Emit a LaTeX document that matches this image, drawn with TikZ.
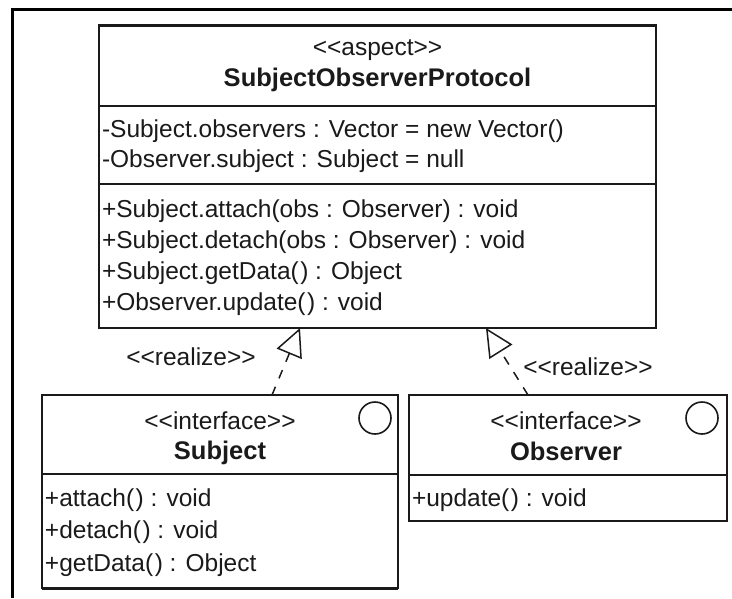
\documentclass[tikz,border=0pt]{standalone}
\usepackage{fontspec}
\setmainfont{Liberation Sans}
\usetikzlibrary{arrows.meta}
\definecolor{ink}{HTML}{1A1A1A}
% stereotype brackets kept as two separate signs
\newcommand{\stereo}[1]{<{}<#1>{}>}
\newcommand{\emptyargs}{(\kern1.5pt)}
\tikzset{
  umlbox/.style={draw=ink, line width=2pt, fill=white, inner sep=0pt, outer sep=0pt, anchor=north west},
  divider/.style={draw=ink, line width=2pt},
  txt/.style={inner sep=0pt, outer sep=0pt, text=ink, font=\fontsize{24.5}{28}\selectfont},
  bold/.style={txt, font=\fontsize{25.5}{28}\selectfont\bfseries},
  ifacemark/.style={draw=ink, line width=1.6pt, circle, inner sep=0pt, minimum size=32pt},
  realize/.style={draw=ink, line width=1.5pt, dash pattern=on 9pt off 9pt,
    -{Triangle[open, length=28pt, width=27pt, line width=1.5pt]}},
  frameline/.style={draw=black, line width=3pt}
}
\begin{document}
\begin{tikzpicture}[x=1pt, y=-1pt]
\useasboundingbox (0,0) rectangle (732,598);

% page frame
\coordinate (fr-top) at (732,9);
\coordinate (fr-corner) at (12,9);
\coordinate (fr-bottom) at (12,598);
\draw[frameline] (fr-top) -- (fr-corner) -- (fr-bottom);

% aspect SubjectObserverProtocol
\node[umlbox, minimum width=557pt, minimum height=303pt] (proto) at (99,25) {};
\draw[ink, line width=3pt] (proto.north west) -- (proto.north east);
\draw[divider] (proto.west |- 0,106) -- (proto.east |- 0,106);
\draw[divider] (proto.west |- 0,184) -- (proto.east |- 0,184);
\node[txt, anchor=base] (proto-st) at (377.5,55) {\stereo{aspect}};
\node[bold, anchor=base] (proto-name) at (377.5,86) {SubjectObserverProtocol};
\node[txt, anchor=base west] (proto-a1) at (102,137) {-Subject.observers : Vector = new Vector()};
\node[txt, anchor=base west] (proto-a2) at (102,167) {-Observer.subject : Subject = null};
\node[txt, anchor=base west] (proto-m1) at (102,217) {+Subject.attach(obs : Observer) : void};
\node[txt, anchor=base west] (proto-m2) at (102,248) {+Subject.detach(obs : Observer) : void};
\node[txt, anchor=base west] (proto-m3) at (102,279) {+Subject.getData\emptyargs{} : Object};
\node[txt, anchor=base west] (proto-m4) at (102,310) {+Observer.update\emptyargs{} : void};

% interface Subject
\node[umlbox, minimum width=356pt, minimum height=193pt] (subj) at (42,395) {};
\draw[ink, line width=3pt] (subj.south west) -- (subj.south east);
\draw[divider] (subj.west |- 0,474) -- (subj.east |- 0,474);
\node[ifacemark] (subj-mark) at (375,418) {};
\node[txt, anchor=base] (subj-st) at (220,429) {\stereo{interface}};
\node[bold, anchor=base] (subj-name) at (220,459) {Subject};
\node[txt, anchor=base west] (subj-m1) at (45,506) {+attach\emptyargs{} : void};
\node[txt, anchor=base west] (subj-m2) at (45,538) {+detach\emptyargs{} : void};
\node[txt, anchor=base west] (subj-m3) at (45,571) {+getData\emptyargs{} : Object};

% interface Observer
\node[umlbox, minimum width=318pt, minimum height=126pt] (obs) at (409,395) {};
\draw[divider] (obs.west |- 0,475) -- (obs.east |- 0,475);
\node[ifacemark] (obs-mark) at (702,418) {};
\node[txt, anchor=base] (obs-st) at (566,429) {\stereo{interface}};
\node[bold, anchor=base] (obs-name) at (566,460) {Observer};
\node[txt, anchor=base west] (obs-m1) at (412,506) {+update\emptyargs{} : void};

% realization connectors
\coordinate (subj-out) at (272,395);
\coordinate (proto-in1) at (300,328);
\coordinate (obs-out) at (528,395);
\coordinate (proto-in2) at (486,328);
\draw[realize] (subj-out) -- (proto-in1);
\draw[realize] (obs-out) -- (proto-in2);
\node[txt, anchor=base] (lbl-subj) at (191,365) {\stereo{realize}};
\node[txt, anchor=base] (lbl-obs) at (588,375) {\stereo{realize}};
\end{tikzpicture}
\end{document}
